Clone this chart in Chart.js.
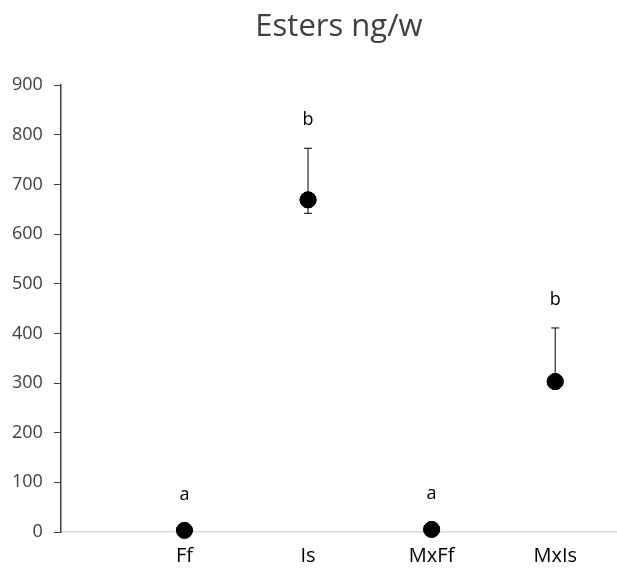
<!DOCTYPE html>
<html>
<head>
<meta charset="utf-8">
<script src="https://cdn.jsdelivr.net/npm/chart.js@4.4.0/dist/chart.umd.min.js"></script>
<style>
  html, body { margin: 0; padding: 0; background: #fff; }
  #wrap { width: 617px; height: 569px; }
</style>
</head>
<body>
<div id="wrap"><canvas id="esters"></canvas></div>
<script>
const groups = ['Ff', 'Is', 'MxFf', 'MxIs'];
const means = [3, 669, 5, 303];
const errHigh = [3, 773, 5, 411];
const errLow = [3, 642, 5, 296];
const letters = ['a', 'b', 'a', 'b'];
const yTicks = [0, 100, 200, 300, 400, 500, 600, 700, 800, 900];

const FONT = '"Open Sans", "Liberation Sans", Arial, sans-serif';

// error bars + significance letters
const errorBars = {
    id: 'errorBars',
    afterDatasetsDraw(chart) {
        const ctx = chart.ctx;
        const xs = chart.scales.x, ys = chart.scales.y;
        ctx.save();
        ctx.strokeStyle = '#000';
        ctx.lineWidth = 1;
        groups.forEach((g, i) => {
            const px = xs.getPixelForValue(i + 1);
            const top = ys.getPixelForValue(errHigh[i]);
            const bot = ys.getPixelForValue(errLow[i]);
            ctx.beginPath();
            ctx.moveTo(px, top); ctx.lineTo(px, bot);
            ctx.moveTo(px - 4, top); ctx.lineTo(px + 4, top);
            ctx.moveTo(px - 4, bot); ctx.lineTo(px + 4, bot);
            ctx.stroke();
        });
        // redraw points on top of the bars
        chart.getDatasetMeta(0).data.forEach(p => p.draw(ctx));
        ctx.fillStyle = '#000';
        ctx.font = '18px ' + FONT;
        ctx.textAlign = 'center';
        ctx.textBaseline = 'middle';
        groups.forEach((g, i) => {
            const px = xs.getPixelForValue(i + 1);
            const top = Math.min(ys.getPixelForValue(errHigh[i]), ys.getPixelForValue(means[i]) - 8);
            ctx.fillText(letters[i], px, top - 28);
        });
        ctx.restore();
    }
};

new Chart(document.getElementById('esters'), {
    type: 'scatter',
    data: {
        datasets: [{
            data: means.map((v, i) => ({x: i + 1, y: v})),
            backgroundColor: '#000',
            borderColor: '#000',
            pointRadius: 8,
            pointHoverRadius: 8
        }]
    },
    options: {
        responsive: true,
        maintainAspectRatio: false,
        animation: false,
        layout: {autoPadding: false, padding: {left: 1, right: 0, top: 0, bottom: -11}},
        plugins: {
            legend: {display: false},
            tooltip: {enabled: false},
            title: {
                display: true,
                fullSize: false,
                text: 'Esters ng/w',
                color: '#404040',
                font: {family: FONT, size: 31, weight: 'normal'},
                padding: {top: 9, bottom: 39},
                align: 'center'
            }
        },
        scales: {
            x: {
                type: 'linear',
                min: 0,
                max: 4.5,
                afterBuildTicks: axis => { axis.ticks = groups.map((g, i) => ({value: i + 1})); },
                grid: {display: false, drawTicks: false},
                border: {display: true, color: '#d9d9d9', width: 1.5},
                ticks: {
                    padding: 12,
                    color: '#000',
                    font: {family: FONT, size: 20},
                    callback: v => groups[v - 1] || ''
                }
            },
            y: {
                min: 0,
                max: 900,
                afterBuildTicks: axis => { axis.ticks = yTicks.map(v => ({value: v})); },
                grid: {drawOnChartArea: false, drawTicks: true, tickLength: 7, color: '#404040'},
                border: {display: true, color: '#404040', width: 1.5},
                ticks: {
                    padding: 11,
                    color: '#404040',
                    font: {family: FONT, size: 18}
                }
            }
        }
    },
    plugins: [errorBars]
});
</script>
</body>
</html>
